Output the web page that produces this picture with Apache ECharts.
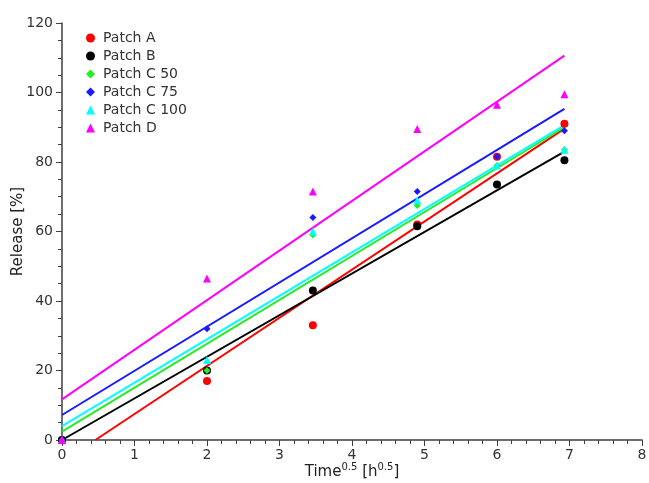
<!DOCTYPE html>
<html>
<head>
<meta charset="utf-8">
<script src="https://cdn.jsdelivr.net/npm/echarts@6/dist/echarts.min.js"></script>
<style>
  html, body { margin: 0; padding: 0; background: #fff; }
  #chart { width: 649px; height: 483px; }
</style>
</head>
<body>
<div id="chart"></div>
<script>
// sampling times, sqrt(h)
var timeX = [0, 2, 3.46, 4.9, 6, 6.93];

// release in % per patch
var patchA    = [0, 17, 33, 62, 81.5, 91];
var patchB    = [0, 20, 43, 61.5, 73.5, 80.5];
var patchC50  = [0, 20, 59, 67.5, 79, 83.5];
var patchC75  = [0, 32, 64, 71.5, 81.5, 89];
var patchC100 = [0, 23, 60, 69, 79, 83.5];
var patchD    = [0, 46.5, 71.5, 89.5, 96.5, 99.5];

// fitted lines, start / end points
var fitStartX = [0.46, 0, 0, 0, 0, 0];
var fitStartY = [0, 0, 2.4, 7.2, 4, 11.7];
var fitEndX   = [6.93, 6.93, 6.93, 6.93, 6.93, 6.93];
var fitEndY   = [89.6, 83, 90, 95.3, 90.6, 110.6];

var names   = ['Patch A', 'Patch B', 'Patch C 50', 'Patch C 75', 'Patch C 100', 'Patch D'];
var values  = [patchA, patchB, patchC50, patchC75, patchC100, patchD];
var colors  = ['#ff0000', '#000000', '#22ee22', '#1a1aff', '#00ffff', '#ff00ff'];
var symbols = ['circle', 'circle', 'diamond', 'diamond', 'triangle', 'triangle'];
var sizes   = [8, 8, 7, 7, 8, 8];

var series = [];
// lines first so the markers sit on top
for (var i = 0; i < names.length; i++) {
  series.push({
    name: names[i] + ' fit',
    type: 'line',
    data: [[fitStartX[i], fitStartY[i]], [fitEndX[i], fitEndY[i]]],
    showSymbol: false,
    silent: true,
    lineStyle: { color: colors[i], width: 2 },
    z: 2
  });
}
for (var j = 0; j < names.length; j++) {
  series.push({
    name: names[j],
    type: 'scatter',
    data: timeX.map(function (x, k) { return [x, values[j][k]]; }),
    symbol: symbols[j],
    symbolSize: sizes[j],
    itemStyle: { color: colors[j], opacity: 1 },
    z: 3
  });
}

var chart = echarts.init(document.getElementById('chart'));
chart.setOption({
  animation: false,
  textStyle: { fontFamily: 'DejaVu Sans' },
  grid: { left: 62, right: 7, top: 23, bottom: 43, containLabel: false, outerBoundsMode: 'none' },
  legend: {
    data: names,
    orient: 'vertical',
    left: 81,
    top: 26,
    itemWidth: 9,
    itemHeight: 9,
    itemGap: 4,
    textStyle: { fontSize: 14, color: '#333', fontFamily: 'DejaVu Sans', padding: [0, 0, 0, 3] }
  },
  xAxis: {
    type: 'value',
    min: 0,
    max: 8,
    interval: 1,
    name: '{n|Time}{s|0.5}{n| [h}{s|0.5}{n|]}',
    nameLocation: 'middle',
    nameGap: 22,
    nameMoveOverlap: false,
    nameTextStyle: {
      rich: {
        n: { fontSize: 15, color: '#222', fontFamily: 'DejaVu Sans', verticalAlign: 'bottom' },
        s: { fontSize: 10, color: '#222', fontFamily: 'DejaVu Sans', verticalAlign: 'top', padding: [0, 0, 8, 0] }
      }
    },
    axisLine: { lineStyle: { color: '#404040', width: 1.5 } },
    axisTick: { length: 6, lineStyle: { color: '#404040' } },
    minorTick: { show: true, splitNumber: 5, length: 4, lineStyle: { color: '#404040' } },
    axisLabel: { fontSize: 14, color: '#333', margin: 8 },
    splitLine: { show: false }
  },
  yAxis: {
    type: 'value',
    min: 0,
    max: 120,
    interval: 20,
    name: 'Release [%]',
    nameLocation: 'middle',
    nameGap: 36,
    nameMoveOverlap: false,
    nameTextStyle: { fontSize: 15, color: '#222', fontFamily: 'DejaVu Sans' },
    axisLine: { show: true, lineStyle: { color: '#404040', width: 1.5 } },
    axisTick: { show: true, length: 6, lineStyle: { color: '#404040' } },
    minorTick: { show: true, splitNumber: 4, length: 4, lineStyle: { color: '#404040' } },
    axisLabel: { fontSize: 14, color: '#333', margin: 9 },
    splitLine: { show: false }
  },
  series: series
});
</script>
</body>
</html>
